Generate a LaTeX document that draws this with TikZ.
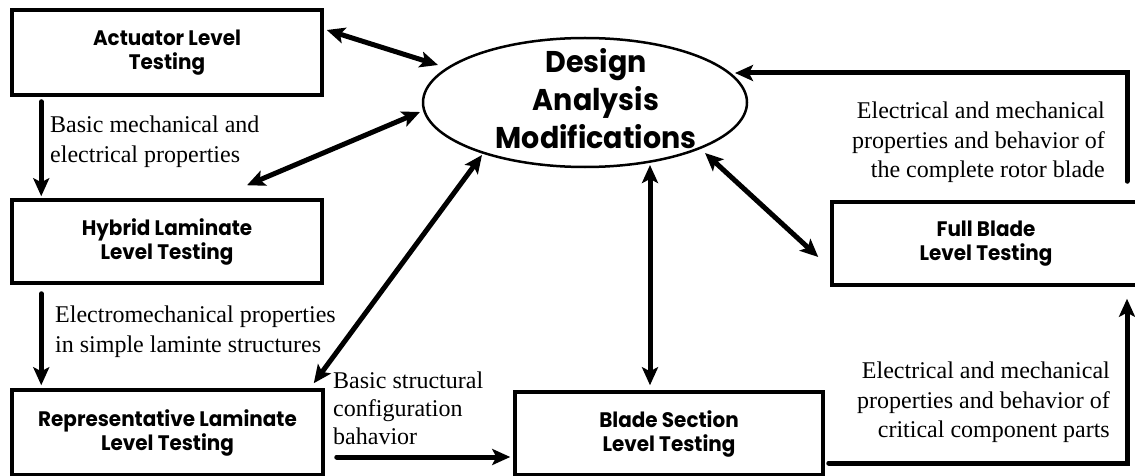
\documentclass[tikz,border=0pt]{standalone}
\usepackage{fontspec}
\setmainfont{Liberation Serif}
\newfontfamily\boxfont[FakeStretch=0.95]{Poppins}
\usetikzlibrary{arrows.meta,shapes.geometric,calc}
\begin{document}
\begin{tikzpicture}[x=1pt,y=-1pt,
  box/.style={draw, line width=3.5pt, rectangle, inner sep=0pt, align=center,
    font=\boxfont\bfseries\fontsize{21}{24}\selectfont},
  lbl/.style={inner sep=0pt, font=\fontsize{24}{29.5}\selectfont},
  conn/.style={line width=5pt, line cap=round, -{Stealth[length=18pt,width=16pt,inset=4pt]}},
  dconn/.style={line width=5pt, {Stealth[length=18pt,width=16pt,inset=4pt]}-{Stealth[length=18pt,width=16pt,inset=4pt]}}
]
\useasboundingbox (0,0) rectangle (1135,476);

% boxes
\node[box, minimum width=310pt, minimum height=85pt] (act) at (167,52.5) {Actuator Level\\Testing};
\node[box, minimum width=310pt, minimum height=83pt] (hyb) at (167,241.5) {Hybrid Laminate\\Level Testing};
\node[box, minimum width=311pt, minimum height=85pt] (rep) at (167.5,432.5) {Representative Laminate\\Level Testing};
\node[box, minimum width=308pt, minimum height=83pt] (bs) at (669,433.5) {Blade Section\\Level Testing};
\node[box, minimum width=308pt, minimum height=83pt] (fb) at (986,243.5) {Full Blade\\Level Testing};

% ellipse
\node[draw, ellipse, line width=2.5pt, minimum width=324pt, minimum height=129pt, inner sep=0pt] (ell) at (585,102.5) {};
\node[inner sep=0pt, align=center, font=\boxfont\bfseries\fontsize{30}{38}\selectfont] (ellt) at (596,98.5) {Design\\Analysis\\Modifications};

% labels
\node[lbl, anchor=north west, align=left] (l1) at (50,116) {Basic mechanical and\\electrical properties};
\node[lbl, anchor=north west, align=left] (l2) at (55,306) {Electromechanical properties\\in simple laminte structures};
\node[lbl, anchor=north west, align=left, font=\fontsize{24}{28}\selectfont] (l3) at (333,372) {Basic structural\\configuration\\bahavior};
\node[lbl, anchor=north east, align=right] (l4) at (1105,102) {Electrical and mechanical\\properties and behavior of\\the complete rotor blade};
\node[lbl, anchor=north east, align=right] (l5) at (1110,362) {Electrical and mechanical\\properties and behavior of\\critical component parts};

% double arrows to the ellipse
\draw[dconn] ($(act.east)+(3,-22.5)$) -- ($(ell.center)+(-147,-37.5)$);
\draw[dconn] ($(hyb.north)+(80,-13)$) -- ($(ell.center)+(-165,9.5)$);
\draw[dconn] ($(rep.north east)+(-11,-5)$) -- ($(ell.center)+(-103,52.5)$);
\draw[dconn] ($(bs.north)+(-19,-5)$) -- ($(ell.center)+(65,62.5)$);
\draw[dconn] ($(fb.west)+(-12,13.5)$) -- ($(ell.center)+(120,50.5)$);

% flow arrows
\draw[conn] ($(act.south west)+(31,5)$) -- ($(hyb.north west)+(31,-2)$);
\draw[conn] ($(hyb.south west)+(31,9)$) -- ($(rep.north west)+(31,-3)$);
\draw[conn] ($(rep.east)+(12,24.5)$) -- ($(bs.west)+(-3,23.5)$);
\draw[conn] ($(bs.east)+(4,29.5)$) -| ($(fb.south)+(141,12)$);
\draw[conn] ($(fb.north)+(141,-19)$) |- ($(ell.center)+(150,-29.5)$);
\end{tikzpicture}
\end{document}
